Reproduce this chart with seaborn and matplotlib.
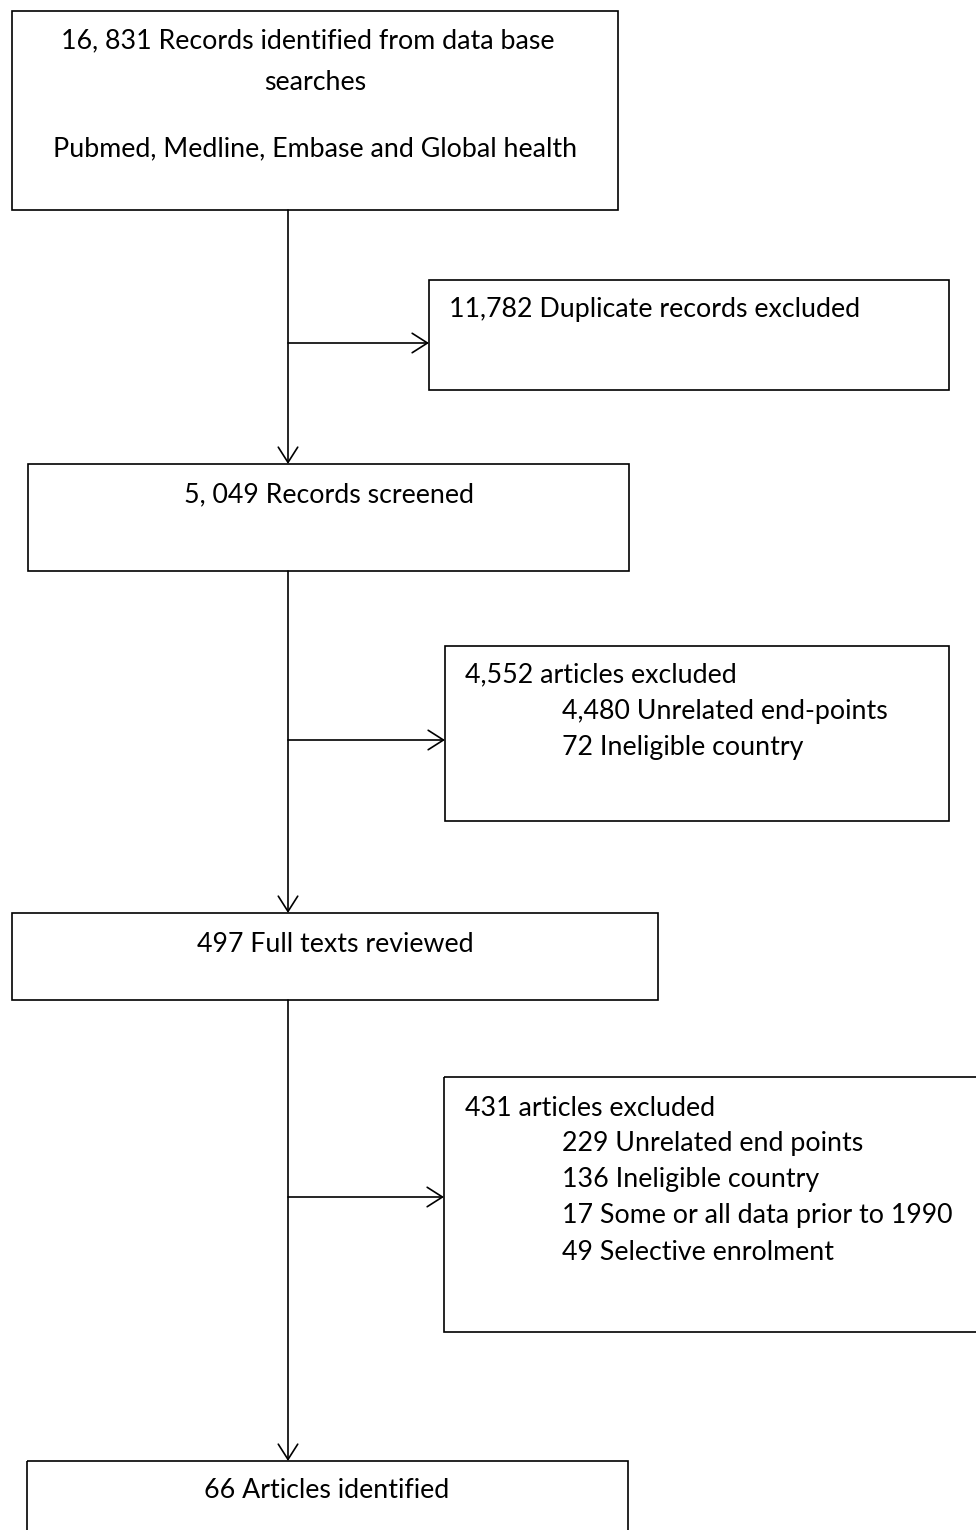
import matplotlib
matplotlib.use("Agg")
import matplotlib.pyplot as plt
import seaborn as sns
from matplotlib.patches import Rectangle

sns.set_theme(style="white")
plt.rcParams['font.family'] = ['Lato', 'DejaVu Sans']

# ---- content (flowchart stages) ----
main_stages = [
    ["16, 831 Records identified from data base", "searches", "",
     "Pubmed, Medline, Embase and Global health"],
    ["5, 049 Records screened"],
    ["497 Full texts reviewed"],
    ["66 Articles identified"],
]
exclusion_headers = [
    "11,782 Duplicate records excluded",
    "4,552 articles excluded",
    "431 articles excluded",
]
exclusion_reasons = [
    [],
    ["4,480 Unrelated end-points", "72 Ineligible country"],
    ["229 Unrelated end points", "136 Ineligible country",
     "17 Some or all data prior to 1990", "49 Selective enrolment"],
]

W, H = 976, 1530
fig = plt.figure(figsize=(W / 100, H / 100), dpi=100)
ax = fig.add_axes([0, 0, 1, 1])
ax.set_xlim(0, W)
ax.set_ylim(H, 0)
ax.axis("off")

LW = 1.2
FS = 19.3
LINE = 36

# main boxes: (x0, y0, x1, y1, first text center y, text center x)
main_geom = [
    (12, 11, 618, 210, 41, 308),
    (28, 464, 629, 571, 495, 329),
    (12, 913, 658, 1000, 944, 335),
    (27, 1461, 628, 1560, 1491, 327),
]
# exclusion boxes: (x0, y0, x1, y1, first text center y, arrow y)
excl_geom = [
    (429, 280, 949, 390, 309, 343),
    (445, 646, 949, 821, 675, 740),
    (444, 1077, 990, 1332, 1108, 1197),
]
spine_x = 288

for (x0, y0, x1, y1, ty, cx), lines in zip(main_geom, main_stages):
    ax.add_patch(Rectangle((x0, y0), x1 - x0, y1 - y0, fill=False,
                           edgecolor="black", linewidth=LW, zorder=2))
    y = ty
    for i, t in enumerate(lines):
        if t:
            xc = cx if i == 0 else (x0 + x1) / 2
            ax.text(xc, y, t, ha="center", va="center", fontsize=FS, color="black")
        y += 41 if i == 0 else 33.5

for (x0, y0, x1, y1, ty, ay), head, reasons in zip(excl_geom, exclusion_headers, exclusion_reasons):
    ax.add_patch(Rectangle((x0, y0), x1 - x0, y1 - y0, fill=False,
                           edgecolor="black", linewidth=LW, zorder=2))
    ax.text(x0 + 20 if x0 < 440 else 465, ty, head, ha="left", va="center",
            fontsize=FS, color="black")
    for k, r in enumerate(reasons):
        ax.text(562, ty + LINE * (k + 1), r, ha="left", va="center",
                fontsize=FS, color="black")
    ax.annotate("", xy=(x0, ay), xytext=(spine_x, ay),
                arrowprops=dict(arrowstyle="->,head_length=1.1,head_width=0.7",
                                mutation_scale=10, color="black", lw=LW,
                                shrinkA=0, shrinkB=0))

# vertical arrows between main boxes
for a, b in zip(main_geom[:-1], main_geom[1:]):
    ax.annotate("", xy=(spine_x, b[1]), xytext=(spine_x, a[3]),
                arrowprops=dict(arrowstyle="->,head_length=1.1,head_width=0.7",
                                mutation_scale=10, color="black", lw=LW,
                                shrinkA=0, shrinkB=0))

fig.savefig("out.png", dpi=100, facecolor="white")
